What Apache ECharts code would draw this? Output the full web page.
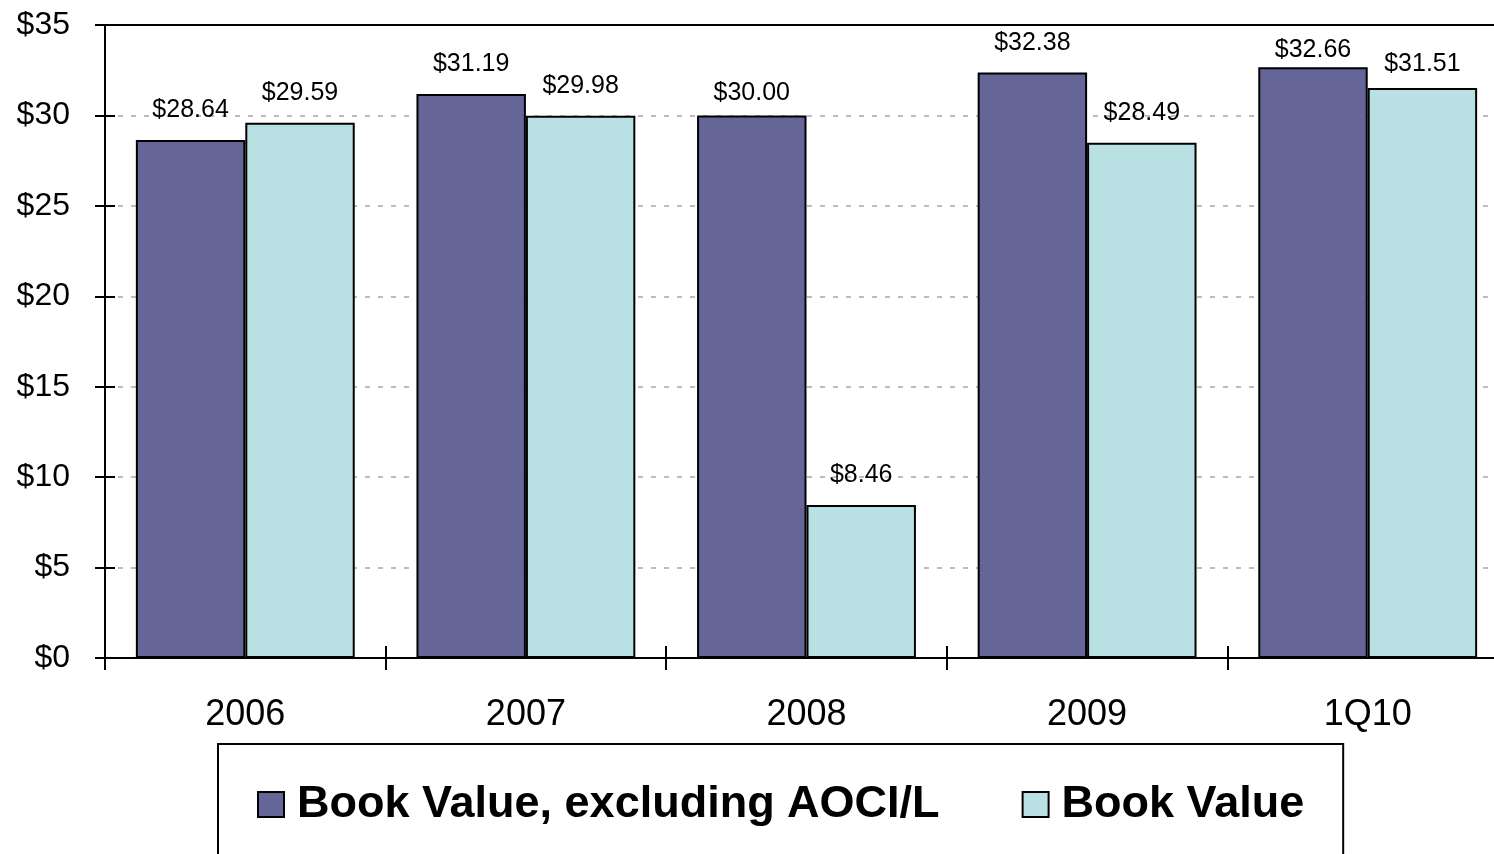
<!DOCTYPE html>
<html>
<head>
<meta charset="utf-8">
<style>
  html, body { margin: 0; padding: 0; background: #fff; overflow: hidden; }
  /* The plot frame runs a little past the right edge of the window */
  #chart { width: 1510px; height: 854px; }
</style>
<script src="https://cdn.jsdelivr.net/npm/echarts@6/dist/echarts.min.js"></script>
</head>
<body>
<div id="chart"></div>
<script>
// Book value per share by period
const categories = ['2006', '2007', '2008', '2009', '1Q10'];
const bookValueExAOCI = [28.64, 31.19, 30.00, 32.38, 32.66];
const bookValue = [29.59, 29.98, 8.46, 28.49, 31.51];
const seriesNames = ['Book Value, excluding AOCI/L', 'Book Value'];

const FONT = "'Liberation Sans', Arial, sans-serif";
const money = v => '$' + Number(v).toFixed(2);

// A few value labels sit closer to their bar so they stay clear of the frame
const LABEL_GAP = 17;
const labelGapOverrides = { '0-2': 10, '0-4': 5, '1-4': 12 };

const chart = echarts.init(document.getElementById('chart'), null, { renderer: 'canvas' });

const barLabel = {
  show: true,
  position: 'top',
  distance: LABEL_GAP,
  color: '#000',
  fontFamily: FONT,
  fontSize: 25,
  formatter: p => money(p.value)
};

function barData(values, seriesIndex) {
  return values.map((v, i) => {
    const gap = labelGapOverrides[seriesIndex + '-' + i];
    return gap === undefined ? v : { value: v, label: { distance: gap } };
  });
}

chart.setOption({
  animation: false,
  backgroundColor: '#fff',
  grid: {
    left: 105, right: 2, top: 25, bottom: 196,
    show: true, borderColor: '#000', borderWidth: 2
  },
  legend: {
    data: seriesNames,
    icon: 'rect',
    left: 218, top: 744,
    orient: 'horizontal',
    itemWidth: 26, itemHeight: 25, itemGap: 82,
    padding: [38, 39, 66, 39],
    borderColor: '#000', borderWidth: 2,
    textStyle: { fontFamily: FONT, fontSize: 45, fontWeight: 'bold', color: '#000', padding: [0, 0, 0, 8] },
    itemStyle: { borderColor: '#000', borderWidth: 2 }
  },
  xAxis: [
    {
      type: 'category', data: categories, position: 'bottom',
      axisLine: { lineStyle: { color: '#000', width: 2 } },
      axisTick: { show: true, inside: false, length: 12, lineStyle: { color: '#000', width: 2 } },
      axisLabel: { color: '#000', fontFamily: FONT, fontSize: 36, margin: 39 },
      splitLine: { show: false }
    },
    {
      type: 'category', data: categories, position: 'bottom',
      axisLine: { show: false },
      axisTick: { show: true, inside: true, length: 12, lineStyle: { color: '#000', width: 2 } },
      axisLabel: { show: false },
      splitLine: { show: false }
    },
    {
      // solid top edge of the plot frame
      type: 'category', data: categories, position: 'top', z: 5,
      axisLine: { show: true, lineStyle: { color: '#000', width: 2 } },
      axisTick: { show: false },
      axisLabel: { show: false },
      splitLine: { show: false }
    }
  ],
  yAxis: [
    {
      type: 'value', min: 0, max: 35, interval: 5, position: 'left',
      axisLine: { show: true, lineStyle: { color: '#000', width: 2 } },
      axisTick: { show: true, inside: false, length: 10, lineStyle: { color: '#000', width: 2 } },
      axisLabel: { color: '#000', fontFamily: FONT, fontSize: 32, margin: 35, formatter: v => '$' + v },
      splitLine: { show: true, lineStyle: { color: '#bdbdbd', width: 2, type: [5, 8] } }
    },
    {
      type: 'value', min: 0, max: 35, interval: 5, position: 'left',
      axisLine: { show: false },
      axisTick: { show: true, inside: true, length: 10, lineStyle: { color: '#000', width: 2 } },
      axisLabel: { show: false },
      splitLine: { show: false }
    }
  ],
  series: [
    {
      name: seriesNames[0], type: 'bar', data: barData(bookValueExAOCI, 0),
      barWidth: '39%', barGap: '0%',
      itemStyle: { color: '#656597', borderColor: '#000', borderWidth: 2 },
      label: barLabel
    },
    {
      name: seriesNames[1], type: 'bar', data: barData(bookValue, 1),
      barWidth: '39%', barGap: '0%',
      itemStyle: { color: '#b9e0e3', borderColor: '#000', borderWidth: 2 },
      label: barLabel
    }
  ]
});
</script>
</body>
</html>
